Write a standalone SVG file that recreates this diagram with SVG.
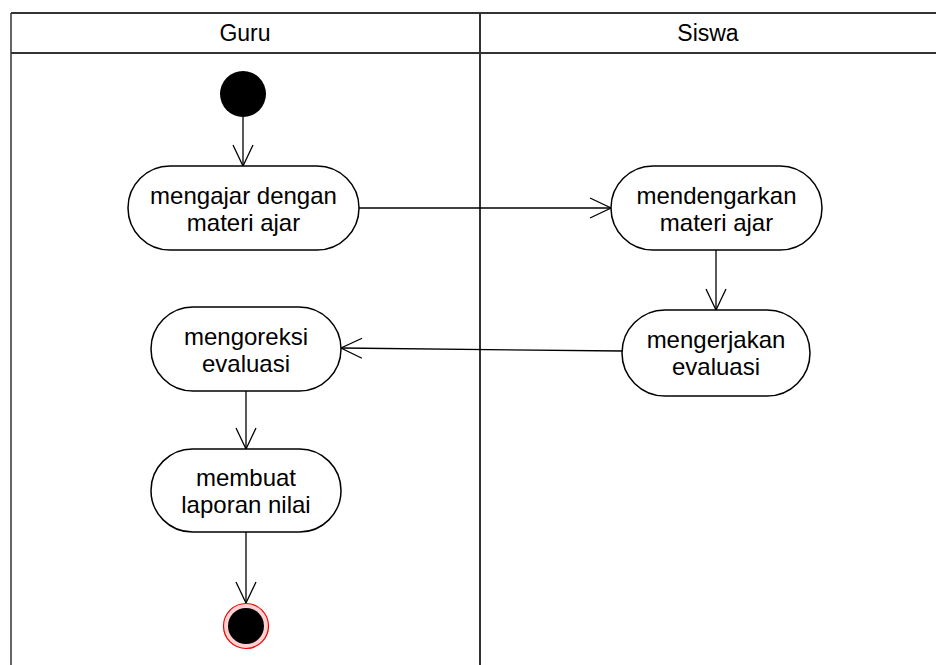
<svg xmlns="http://www.w3.org/2000/svg" width="936" height="665" viewBox="0 0 936 665">
<style>
.frame{stroke:#333;fill:none}
.node rect{fill:#fff;stroke:#000;stroke-width:1.5}
.node text,.lane{font-family:"Liberation Sans",Arial,sans-serif;font-size:24px;fill:#000;text-anchor:middle}
.lane{font-size:23px}
.edge{stroke:#000;stroke-width:1.3;fill:none;marker-end:url(#open)}
</style>
<defs>
<marker id="open" markerUnits="userSpaceOnUse" viewBox="-23 -12 25 24" markerWidth="25" markerHeight="24" refX="0" refY="0" orient="auto" overflow="visible">
<path d="M-21,-10 L0,0 L-21,10" fill="none" stroke="#000" stroke-width="1.3"/>
</marker>
</defs>
<rect width="936" height="665" fill="#fff"/>
<g id="swimlanes">
<line class="frame" x1="11" y1="13" x2="936" y2="13" stroke-width="2" stroke="#666"/>
<line class="frame" x1="11" y1="13" x2="11" y2="665" stroke-width="1.5" stroke="#666"/>
<line class="frame" x1="11" y1="53" x2="936" y2="53" stroke-width="2.2" stroke="#111"/>
<line class="frame" x1="480" y1="13" x2="480" y2="665" stroke-width="2" stroke="#222"/>
<text class="lane" x="245" y="41">Guru</text>
<text class="lane" x="708" y="41">Siswa</text>
</g>
<g id="connectors">
<line class="edge" x1="243" y1="117" x2="243" y2="166"/>
<line class="edge" x1="359" y1="208" x2="611" y2="208"/>
<line class="edge" x1="716" y1="250" x2="716" y2="310"/>
<line class="edge" x1="622" y1="351" x2="341" y2="348"/>
<line class="edge" x1="246" y1="391" x2="246" y2="449"/>
<line class="edge" x1="246" y1="532" x2="246" y2="603"/>
</g>
<g id="start"><circle cx="243" cy="94" r="23" fill="#000"/></g>
<g id="n1" class="node"><rect x="128" y="166" width="231" height="84" rx="42"/><text x="243.5" y="204">mengajar dengan</text><text x="243.5" y="231">materi ajar</text></g>
<g id="n2" class="node"><rect x="611" y="166" width="211" height="84" rx="42"/><text x="716.5" y="204">mendengarkan</text><text x="716.5" y="231">materi ajar</text></g>
<g id="n3" class="node"><rect x="622" y="310" width="188" height="86" rx="43"/><text x="716" y="348">mengerjakan</text><text x="716" y="375">evaluasi</text></g>
<g id="n4" class="node"><rect x="151" y="307" width="190" height="84" rx="42"/><text x="246" y="345">mengoreksi</text><text x="246" y="372">evaluasi</text></g>
<g id="n5" class="node"><rect x="151" y="449" width="190" height="83" rx="41.5"/><text x="246" y="486">membuat</text><text x="246" y="513">laporan nilai</text></g>
<g id="end"><circle cx="246" cy="626" r="22.5" fill="#ffd0d0" stroke="#e00" stroke-width="1.2"/><circle cx="246" cy="626" r="18" fill="#000"/></g>
</svg>
